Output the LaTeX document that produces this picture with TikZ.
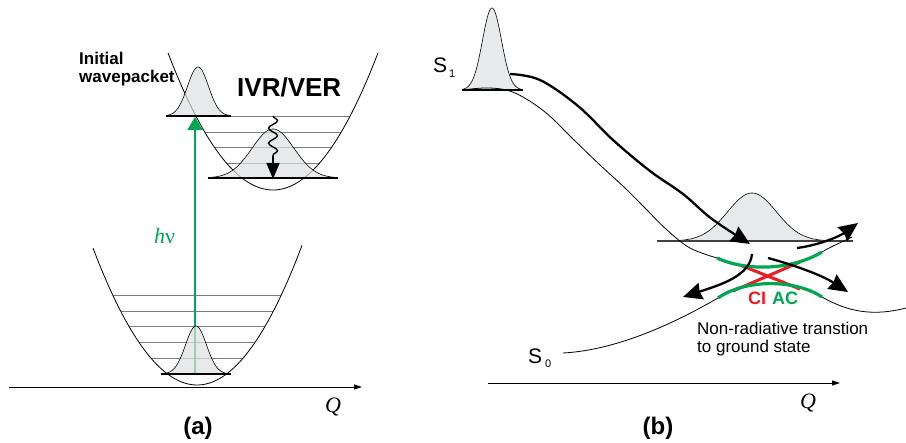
\documentclass[tikz,border=0pt]{standalone}
\usepackage{fontspec}
\setmainfont{Liberation Serif}
\setsansfont{Liberation Sans}
\usetikzlibrary{arrows.meta,decorations.pathmorphing}
\definecolor{grn}{RGB}{0,166,81}
\definecolor{rd}{RGB}{237,28,36}
\definecolor{gfill}{RGB}{222,224,227}
\definecolor{lvl}{RGB}{125,125,125}
\begin{document}
\begin{tikzpicture}[x=1pt,y=-1pt,
  pot/.style={line width=0.8pt},
  lvline/.style={draw=lvl, line width=0.8pt},
  gline/.style={draw=black, line width=1.1pt},
  wpfill/.style={fill=gfill, fill opacity=0.7},
  wpline/.style={draw=black, line width=0.6pt},
  thk/.style={line width=2.3pt, -{Stealth[length=19pt,width=17pt,inset=1.5pt]}},
  ax/.style={line width=0.8pt, -{Triangle[length=8pt,width=5pt]}},
  bsf/.style={font=\sffamily\bfseries, inner sep=0pt},
  rsf/.style={font=\sffamily, inner sep=0pt},
  qlbl/.style={font=\itshape\fontsize{22}{24}\selectfont, inner sep=0pt, anchor=base west}
]
\useasboundingbox (0,0) rectangle (906,443);

% ================= panel (a) =================
% vibrational levels, lower well
\foreach \yy/\xa/\xb in {295/113/281, 311/121/273, 326/129/265, 342/139/255, 358/151/243}
  \draw[lvline] (\xa,\yy) -- (\xb,\yy);
% vibrational levels, upper well
\foreach \yy/\xa/\xb in {116/166/350, 132/205/341, 147/214/332, 163/226/320}
  \draw[lvline] (\xa,\yy) -- (\xb,\yy);
% potential wells
\draw[pot] plot[domain=93:302,samples=80] (\x,{385-0.01267*(\x-197)*(\x-197)});
\draw[pot] plot[domain=168:378,samples=80] (\x,{190-0.01243*(\x-273)*(\x-273)});
% excitation arrow
\coordinate (g0) at (195,374);
\coordinate (g1) at (195,117);
\draw[grn, line width=2.2pt, -{Triangle[length=13pt,width=15pt]}] (g0) -- (g1);
\node[font=\fontsize{22}{24}\selectfont, text=grn, inner sep=0pt, anchor=base west] (hnu) at (154,244) {\textit{h}ν};
% wavepackets
\fill[wpfill] plot[domain=162:231,samples=80] (\x,{374-48*exp(-0.5*(\x-196)*(\x-196)/110)}) -- cycle;
\draw[wpline] plot[domain=162:231,samples=80] (\x,{374-48*exp(-0.5*(\x-196)*(\x-196)/110)});
\fill[wpfill] plot[domain=166:231,samples=80] (\x,{116-49*exp(-0.5*(\x-198)*(\x-198)/110)}) -- cycle;
\draw[wpline] plot[domain=166:231,samples=80] (\x,{116-49*exp(-0.5*(\x-198)*(\x-198)/110)});
\fill[wpfill] plot[domain=208:338,samples=100] (\x,{178-49*exp(-0.5*(\x-273)*(\x-273)/441)}) -- cycle;
\draw[wpline] plot[domain=208:338,samples=100] (\x,{178-49*exp(-0.5*(\x-273)*(\x-273)/441)});
% ground lines
\draw[gline] (161,374) -- (231,374);
\draw[gline] (166,116) -- (231,116);
\draw[gline] (208,178) -- (338,178);
% relaxation arrow
\coordinate (w0) at (273,116);
\coordinate (w1) at (273,156);
\coordinate (w2) at (273,179);
\draw[line width=1.4pt, decorate, decoration={snake, amplitude=4.5pt, segment length=15pt}] (w0) -- (w1);
\draw[line width=1.4pt, -{Triangle[length=16pt,width=13pt]}] (w1) -- (w2);
% axis
\coordinate (axa0) at (9,387);
\coordinate (axa1) at (362,387);
\draw[ax] (axa0) -- (axa1);
\node[qlbl] (qa) at (325,413) {Q};
% labels
\node[bsf, font=\sffamily\bfseries\fontsize{17}{20}\selectfont, anchor=base west] (iw1) at (79,65) {Initial};
\node[bsf, font=\sffamily\bfseries\fontsize{17}{20}\selectfont, anchor=base west] (iw2) at (79,83) {wavepacket};
\node[bsf, font=\sffamily\bfseries\fontsize{26}{28}\selectfont, anchor=base west] (ivr) at (237,97) {IVR/VER};
\node[bsf, font=\sffamily\bfseries\fontsize{24}{26}\selectfont, anchor=base] (la) at (198,435) {(a)};

% ================= panel (b) =================
% S1 wavepacket
\fill[wpfill] plot[domain=462:523,samples=80] (\x,{90-82*exp(-0.5*(\x-492)*(\x-492)/90)}) -- cycle;
\draw[wpline] plot[domain=462:523,samples=80] (\x,{90-82*exp(-0.5*(\x-492)*(\x-492)/90)});
\draw[gline] (462,90) -- (523,90);
% wavepacket near crossing
\fill[wpfill] plot[domain=657:853,samples=120] (\x,{241-48*exp(-0.5*(\x-752)*(\x-752)/600)}) -- cycle;
\draw[wpline] plot[domain=657:853,samples=120] (\x,{241-48*exp(-0.5*(\x-752)*(\x-752)/600)});
\draw[draw=black!75, line width=1.1pt] (657,241) -- (853,241);
% S1 potential
\draw[pot] plot[smooth, tension=0.6] coordinates {(462,90) (490,88) (515,93) (545,112) (573,139) (600,165) (625,188) (645,208) (667,230) (690,248) (717,258)};
\draw[pot] (822,252) .. controls (832,246) and (842,242) .. (852,237);
% S0 potential
\draw[pot] (563,353) .. controls (620,350) and (680,320) .. (718,298);
\draw[pot] (822,297) .. controls (850,313) and (875,316) .. (906,308);
% diabatic crossing (CI)
\draw[rd, line width=3pt] (740,265) -- (800,289);
\draw[rd, line width=3pt] (733,291) -- (800,262);
% adiabatic branches (AC)
\draw[grn, line width=3.2pt] (717,258) .. controls (745,271) and (790,271) .. (822,252);
\draw[grn, line width=3.2pt] (718,298) .. controls (745,279) and (795,279) .. (822,297);
% trajectories
\draw[thk] plot[smooth, tension=0.6] coordinates {(510,74) (540,80) (578,106) (613,140) (650,171) (683,194) (712,219) (750,244)};
\coordinate (a1s) at (752,254);
\coordinate (a1e) at (683,297);
\coordinate (a2s) at (768,258);
\coordinate (a2e) at (848,292);
\coordinate (a3s) at (797,248);
\coordinate (a3e) at (858,223);
\draw[thk] (a1s) .. controls (750,276) and (720,285) .. (a1e);
\draw[thk] (a2s) .. controls (790,264) and (820,274) .. (a2e);
\draw[thk] (a3s) .. controls (820,245) and (840,236) .. (a3e);
% labels
\node[bsf, font=\sffamily\bfseries\fontsize{18}{20}\selectfont, text=rd, anchor=base west] (ci) at (748,305) {CI};
\node[bsf, font=\sffamily\bfseries\fontsize{18}{20}\selectfont, text=grn, anchor=base west] (ac) at (772,305) {AC};
\node[rsf, font=\sffamily\fontsize{17}{20}\selectfont, anchor=base west] (nr1) at (697,335) {Non-radiative transtion};
\node[rsf, font=\sffamily\fontsize{17}{20}\selectfont, anchor=base west] (nr2) at (697,353) {to ground state};
\node[rsf, font=\sffamily\fontsize{21}{24}\selectfont, anchor=base west] (s1) at (433,73) {S};
\node[rsf, font=\sffamily\fontsize{11}{12}\selectfont, anchor=base west] (s1i) at (449,78) {1};
\node[rsf, font=\sffamily\fontsize{21}{24}\selectfont, anchor=base west] (s0) at (528,364) {S};
\node[rsf, font=\sffamily\fontsize{11}{12}\selectfont, anchor=base west] (s0i) at (545,368) {0};
% axis
\coordinate (axb0) at (488,383);
\coordinate (axb1) at (840,383);
\draw[ax] (axb0) -- (axb1);
\node[qlbl] (qb) at (800,409) {Q};
\node[bsf, font=\sffamily\bfseries\fontsize{24}{26}\selectfont, anchor=base] (lb) at (658,435) {(b)};
\end{tikzpicture}
\end{document}
